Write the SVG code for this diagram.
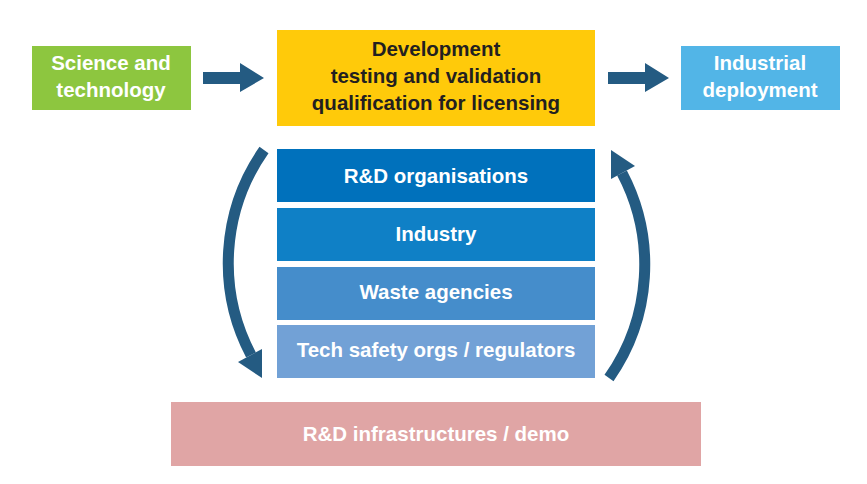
<svg xmlns="http://www.w3.org/2000/svg" width="867" height="484" viewBox="0 0 867 484">
  <style>
    .lbl { font-family: "Liberation Sans", Arial, sans-serif; font-weight: bold; font-size: 20.5px; text-anchor: middle; }
    .w { fill: #ffffff; }
    .d { fill: #231f20; }
    .conn { fill: none; stroke: #245b82; stroke-width: 11; }
    .head { fill: #245b82; }
  </style>
  <rect width="867" height="484" fill="#ffffff"/>

  <g id="science">
    <rect x="32" y="46" width="159" height="64" fill="#8dc63f"/>
    <text class="lbl w" x="111" y="70">Science and</text>
    <text class="lbl w" x="111" y="97">technology</text>
  </g>

  <g id="development">
    <rect x="277" y="30" width="318" height="96" fill="#ffca0a"/>
    <text class="lbl d" x="436" y="56">Development</text>
    <text class="lbl d" x="436" y="83">testing and validation</text>
    <text class="lbl d" x="436" y="110">qualification for licensing</text>
  </g>

  <g id="industrial">
    <rect x="681" y="46" width="159" height="64" fill="#52b5e7"/>
    <text class="lbl w" x="760" y="70">Industrial</text>
    <text class="lbl w" x="760" y="97">deployment</text>
  </g>

  <g id="rd-organisations">
    <rect x="277" y="149" width="318" height="53" fill="#0071bc"/>
    <text class="lbl w" x="436" y="183">R&amp;D organisations</text>
  </g>
  <g id="industry">
    <rect x="277" y="208" width="318" height="53" fill="#0f80c6"/>
    <text class="lbl w" x="436" y="241">Industry</text>
  </g>
  <g id="waste-agencies">
    <rect x="277" y="267" width="318" height="53" fill="#458dcb"/>
    <text class="lbl w" x="436" y="299">Waste agencies</text>
  </g>
  <g id="tech-safety">
    <rect x="277" y="325" width="318" height="53" fill="#72a1d6"/>
    <text class="lbl w" x="436" y="357">Tech safety orgs / regulators</text>
  </g>

  <g id="rd-infrastructures">
    <rect x="171" y="402" width="530" height="64" fill="#e0a5a5"/>
    <text class="lbl w" x="436" y="441">R&amp;D infrastructures / demo</text>
  </g>

  <g id="connectors">
    <polygon class="head" points="203,72 240,72 240,63 264,78 240,92 240,84 203,84"/>
    <polygon class="head" points="608,72 645,72 645,63 669,78 645,92 645,84 608,84"/>
    <path class="conn" d="M 264 150 A 197 197 0 0 0 251 355"/>
    <polygon class="head" points="262,349 238,362 262,378"/>
    <path class="conn" d="M 609 378 A 197 197 0 0 0 622 173"/>
    <polygon class="head" points="611,179 635,166 611,150"/>
  </g>
</svg>
